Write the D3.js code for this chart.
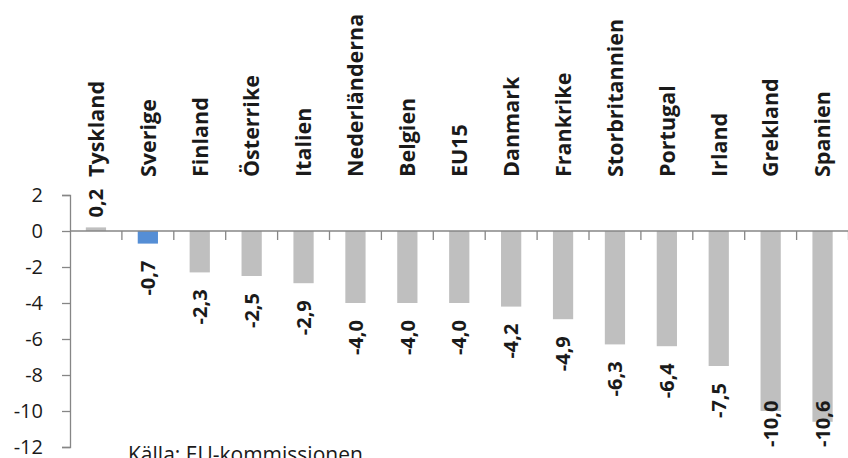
<!DOCTYPE html>
<html>
<head>
<meta charset="utf-8">
<script src="https://cdn.jsdelivr.net/npm/d3@7"></script>
<style>
  html, body { margin: 0; padding: 0; background: #ffffff; }
  svg { display: block; font-family: "Open Sans", "Noto Sans", sans-serif; }
</style>
</head>
<body>
<svg id="chart" width="848" height="458"></svg>
<script>
// Budgetsaldo per land (procent av BNP)
const categories = ["Tyskland", "Sverige", "Finland", "Österrike", "Italien", "Nederländerna",
  "Belgien", "EU15", "Danmark", "Frankrike", "Storbritannien", "Portugal", "Irland", "Grekland", "Spanien"];
const values = [0.2, -0.7, -2.3, -2.5, -2.9, -4.0, -4.0, -4.0, -4.2, -4.9, -6.3, -6.4, -7.5, -10.0, -10.6];
const highlighted = ["Sverige"];
const yTicks = [2, 0, -2, -4, -6, -8, -10, -12];
const sourceText = "Källa: EU-kommissionen";

const svLocale = d3.formatLocale({ decimal: ",", thousands: " ", grouping: [3], currency: ["", " kr"], minus: "-" });
const fmtValue = svLocale.format(".1f");
const fmtTick = svLocale.format("d");

const svg = d3.select("#chart");
const plotLeft = 70, plotRight = 848.5, plotTop = 195, plotBottom = 447;

const x = d3.scaleBand().domain(categories).range([plotLeft, plotRight]).paddingInner(0.61).paddingOuter(0.305);
const y = d3.scaleLinear().domain([-12, 2]).range([plotBottom, plotTop]);

const axisColor = "#868686";
const textColor = "#1a1a1a";

// Y axis
const yAxis = svg.append("g")
  .attr("transform", `translate(${plotLeft},0)`)
  .call(d3.axisLeft(y).tickValues(yTicks).tickSize(8).tickPadding(19).tickFormat(fmtTick));
yAxis.select(".domain").attr("stroke", axisColor).attr("stroke-width", 1.3);
yAxis.selectAll(".tick line").attr("stroke", axisColor).attr("stroke-width", 1.3);
yAxis.selectAll(".tick text")
  .attr("fill", textColor)
  .style("font-size", "20px")
  .style("font-family", "'Open Sans', sans-serif");

// Bars
svg.append("g").selectAll("rect")
  .data(categories)
  .join("rect")
  .attr("x", d => x(d))
  .attr("width", x.bandwidth())
  .attr("y", (d, i) => y(Math.max(0, values[i])))
  .attr("height", (d, i) => Math.abs(y(values[i]) - y(0)))
  .attr("fill", d => highlighted.includes(d) ? "#558ED5" : "#BFBFBF");

// X axis line at zero with ticks between categories
const xAxisG = svg.append("g");
xAxisG.append("line")
  .attr("x1", plotLeft).attr("x2", plotRight)
  .attr("y1", y(0)).attr("y2", y(0))
  .attr("stroke", axisColor).attr("stroke-width", 1.3);
const boundaries = d3.range(categories.length + 1).map(i => plotLeft + i * x.step());
xAxisG.selectAll("line.tick")
  .data(boundaries.slice(1))
  .join("line")
  .attr("class", "tick")
  .attr("x1", d => d).attr("x2", d => d)
  .attr("y1", y(0)).attr("y2", y(0) + 9)
  .attr("stroke", axisColor).attr("stroke-width", 1.3);

// Category labels (rotated, above the plot)
svg.append("g").selectAll("text")
  .data(categories)
  .join("text")
  .attr("transform", d => `translate(${x(d) + x.bandwidth() / 2},177) rotate(-90)`)
  .attr("dy", "0.36em")
  .attr("text-anchor", "start")
  .attr("fill", textColor)
  .style("font-size", "21.5px")
  .style("font-weight", "bold")
  .text(d => d);

// Value labels (rotated)
const labels = svg.append("g").selectAll("text")
  .data(categories)
  .join("text")
  .attr("dy", "0.36em")
  .attr("fill", textColor)
  .style("font-size", "20px")
  .style("font-weight", "bold")
  .text((d, i) => fmtValue(values[i]));

labels.each(function (d, i) {
  const v = values[i];
  const cx = x(d) + x.bandwidth() / 2;
  const len = this.getComputedTextLength();
  if (v >= 0) {
    const base = y(v) - 10;
    d3.select(this).attr("text-anchor", "start")
      .attr("transform", `translate(${cx},${base}) rotate(-90)`);
  } else {
    let topY = y(v) + 17;
    if (topY + len > plotBottom) topY = plotBottom - len;
    d3.select(this).attr("text-anchor", "end")
      .attr("transform", `translate(${cx},${topY}) rotate(-90)`);
  }
});

// Source
svg.append("text")
  .attr("x", 128).attr("y", 462)
  .attr("fill", textColor)
  .style("font-size", "21px")
  .text(sourceText);
</script>
</body>
</html>
